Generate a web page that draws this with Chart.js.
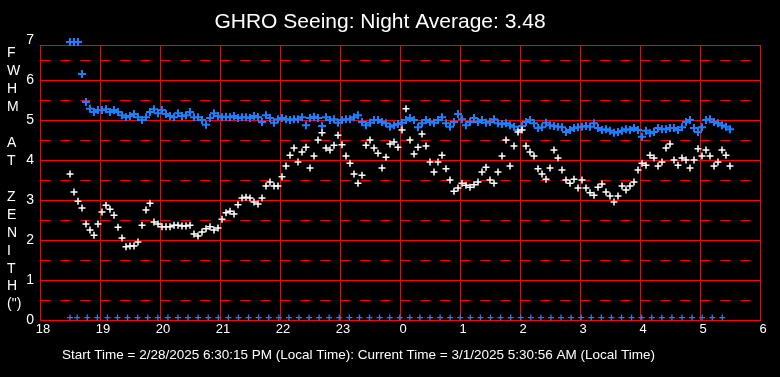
<!DOCTYPE html>
<html>
<head>
<meta charset="utf-8">
<script src="https://cdn.jsdelivr.net/npm/chart.js@4.4.1/dist/chart.umd.min.js"></script>
<style>
html, body { margin: 0; padding: 0; background: #000; }
</style>
</head>
<body>
<canvas id="seeing" width="780" height="377"></canvas>
<script>
// samples every 4 min starting 18:30 local
const startHour = 18.5;
const stepMin = 4;

const fwhmBlue = [
  6.95, 6.95, 6.95, 6.15, 5.45, 5.28, 5.2, 5.25, 5.25, 5.27,
  5.2, 5.25, 5.2, 5.12, 5.07, 5.1, 5.15, 5.07, 5.0, 5.07,
  5.2, 5.27, 5.17, 5.25, 5.15, 5.1, 5.07, 5.17, 5.1, 5.12,
  5.2, 5.07, 5.07, 5.0, 4.88, 5.05, 5.17, 5.1, 5.07, 5.08,
  5.07, 5.1, 5.05, 5.07, 5.07, 5.05, 5.1, 5.07, 4.95, 5.12,
  5.05, 4.93, 5.02, 5.05, 5.02, 5.0, 5.02, 5.02, 5.07, 4.87,
  5.05, 5.08, 5.05, 4.85, 5.07, 5.0, 5.02, 4.93, 5.0, 5.02,
  5.02, 5.07, 5.12, 4.95, 4.87, 4.93, 5.0, 5.0, 4.95, 4.92,
  4.83, 4.87, 4.9, 4.93, 5.0, 5.05, 5.0, 4.82, 4.92, 5.0,
  4.95, 4.93, 5.0, 5.07, 4.92, 4.83, 4.95, 5.15, 5.02, 4.87,
  4.95, 5.05, 4.95, 5.0, 4.93, 4.95, 5.02, 4.92, 4.9, 4.92,
  4.87, 4.83, 4.75, 4.85, 4.95, 5.0, 4.92, 4.8, 4.82, 4.93,
  4.87, 4.85, 4.83, 4.82, 4.7, 4.75, 4.8, 4.82, 4.83, 4.85,
  4.83, 4.92, 4.8, 4.75, 4.77, 4.73, 4.68, 4.7, 4.73, 4.77,
  4.75, 4.8, 4.75, 4.58, 4.73, 4.67, 4.7, 4.8, 4.77, 4.77,
  4.8, 4.8, 4.75, 4.82, 4.95, 5.0, 4.8, 4.7, 4.82, 5.0,
  5.02, 4.95, 4.92, 4.87, 4.83, 4.77
];

const fwhmWhite = [
  3.65, 3.2, 2.97, 2.8, 2.4, 2.25, 2.12, 2.4, 2.7, 2.87,
  2.77, 2.62, 2.32, 2.05, 1.83, 1.85, 1.85, 1.95, 2.37, 2.75,
  2.92, 2.45, 2.4, 2.33, 2.33, 2.33, 2.37, 2.37, 2.35, 2.35,
  2.37, 2.15, 2.1, 2.2, 2.28, 2.33, 2.25, 2.3, 2.52, 2.68,
  2.72, 2.65, 2.88, 3.05, 3.07, 3.05, 2.95, 2.9, 3.05, 3.35,
  3.45, 3.35, 3.35, 3.58, 3.85, 4.12, 4.3, 3.95, 4.2, 4.32,
  3.8, 4.1, 4.5, 4.68, 4.3, 4.25, 4.37, 4.62, 4.38, 4.1,
  3.92, 3.65, 3.42, 3.62, 4.37, 4.5, 4.3, 4.17, 3.8, 4.07,
  4.4, 4.45, 4.32, 4.75, 5.28, 4.5, 4.15, 4.32, 4.65, 4.35,
  3.95, 3.7, 3.95, 4.12, 3.78, 3.5, 3.22, 3.3, 3.42, 3.37,
  3.32, 3.38, 3.45, 3.7, 3.82, 3.5, 3.42, 3.7, 4.1, 4.5,
  3.85, 4.35, 4.7, 4.75, 4.35, 4.2, 4.1, 3.78, 3.65, 3.52,
  3.8, 4.25, 4.05, 3.75, 3.5, 3.42, 3.52, 3.3, 3.5, 3.3,
  3.18, 3.12, 3.32, 3.4, 3.2, 3.1, 2.95, 3.1, 3.35, 3.25,
  3.35, 3.45, 3.75, 3.92, 3.87, 4.12, 4.05, 3.85, 3.95, 4.3,
  4.4, 4.0, 3.87, 4.05, 4.0, 3.8, 4.0, 4.28, 4.1, 4.25,
  4.1, 3.85, 3.95, 4.25, 4.12, 3.85
];

// status markers along the bottom (every ~10 min)
const zeroFirst = 18.5;
const zeroStart = 18.62;
const zeroStepMin = 10.08;
const zeroCount = 65;
const zeroLevel = 0.06;

const xTicks = [18, 19, 20, 21, 22, 23, 24, 25, 26, 27, 28, 29, 30];
const yTicks = [0, 1, 2, 3, 4, 5, 6, 7];
const yLetters = ['F', 'W', 'H', 'M', '', 'A', 'T', '', 'Z', 'E', 'N', 'I', 'T', 'H', '(")'];

const titleText = 'GHRO Seeing: Night Average: 3.48';
const footerText = 'Start Time = 2/28/2025 6:30:15 PM (Local Time): Current Time = 3/1/2025 5:30:56 AM (Local Time)';

const blueCol = '#1a80ff';
const gridCol = '#ff0000';
const fontFam = '"Liberation Sans", Arial, sans-serif';

const bluePts = fwhmBlue.map((v, i) => ({ x: startHour + i * stepMin / 60, y: v }));
const whitePts = fwhmWhite.map((v, i) => ({ x: startHour + i * stepMin / 60, y: v }));
const zeroPts = [{ x: zeroFirst, y: zeroLevel }];
for (let i = 0; i < zeroCount; i++) {
  zeroPts.push({ x: zeroStart + i * zeroStepMin / 60, y: zeroLevel });
}

function crisp(v) {
  return Math.round(v) + 0.5;
}

const gridPlugin = {
  id: 'redGrid',
  beforeDraw(chart) {
    const c = chart.ctx;
    c.save();
    c.fillStyle = '#000';
    c.fillRect(0, 0, chart.width, chart.height);
    c.restore();
  },
  beforeDatasetsDraw(chart) {
    const c = chart.ctx;
    const xs = chart.scales.x;
    const ys = chart.scales.y;
    const left = crisp(xs.getPixelForValue(18));
    const right = crisp(xs.getPixelForValue(30));
    const top = crisp(ys.getPixelForValue(6.875));
    const bottom = crisp(ys.getPixelForValue(0));
    c.save();
    c.strokeStyle = gridCol;
    c.lineWidth = 1;

    // dashed half-unit lines
    c.setLineDash([10, 10]);
    for (let v = 0.5; v < 7; v += 1) {
      const y = crisp(ys.getPixelForValue(v));
      c.beginPath();
      c.moveTo(left, y);
      c.lineTo(right, y);
      c.stroke();
    }
    c.setLineDash([]);

    // solid integer lines
    for (const v of yTicks) {
      if (v === 0 || v === 7) continue;
      const y = crisp(ys.getPixelForValue(v));
      c.beginPath();
      c.moveTo(left, y);
      c.lineTo(right, y);
      c.stroke();
    }
    for (const h of xTicks) {
      const x = crisp(xs.getPixelForValue(h));
      c.beginPath();
      c.moveTo(x, top);
      c.lineTo(x, bottom);
      c.stroke();
    }
    c.strokeRect(left, top, right - left, bottom - top);
    c.restore();
  },
  afterDraw(chart) {
    const c = chart.ctx;
    c.save();
    c.fillStyle = '#fff';
    c.font = '14px ' + fontFam;
    c.textAlign = 'left';
    c.textBaseline = 'middle';
    yLetters.forEach((ch, i) => {
      c.fillText(ch, 7, 53.5 + i * 17.93);
    });
    c.font = '13.5px ' + fontFam;
    c.fillText(footerText, 62, 355);
    c.restore();
  }
};

new Chart(document.getElementById('seeing'), {
  type: 'scatter',
  data: {
    datasets: [
      {
        label: 'white',
        data: whitePts,
        pointStyle: 'cross',
        pointRadius: 3.5,
        borderColor: '#ffffff',
        backgroundColor: '#ffffff',
        borderWidth: 1.5,
        clip: 6
      },
      {
        label: 'blue',
        data: bluePts,
        pointStyle: 'cross',
        pointRadius: 4,
        borderColor: blueCol,
        backgroundColor: blueCol,
        borderWidth: 2,
        clip: 6
      },
      {
        label: 'zero',
        data: zeroPts,
        pointStyle: 'cross',
        pointRadius: 3,
        borderColor: blueCol,
        backgroundColor: blueCol,
        borderWidth: 1.3,
        clip: 6
      }
    ]
  },
  options: {
    responsive: false,
    animation: false,
    events: [],
    layout: { padding: { left: 0, right: 20, top: 0, bottom: 0 } },
    scales: {
      x: {
        type: 'linear',
        min: 18,
        max: 30,
        afterFit(scale) { scale.height = 57; },
        afterBuildTicks(scale) { scale.ticks = xTicks.map(v => ({ value: v })); },
        grid: { display: false, drawTicks: false },
        border: { display: false },
        ticks: {
          color: '#fff',
          padding: 2,
          labelOffset: 3,
          maxRotation: 0,
          autoSkip: false,
          font: { family: fontFam, size: 13 },
          callback: v => String(v % 24)
        }
      },
      y: {
        type: 'linear',
        min: 0,
        max: 7,
        afterFit(scale) { scale.width = 40; },
        afterBuildTicks(scale) { scale.ticks = yTicks.map(v => ({ value: v })); },
        grid: { display: false, drawTicks: false },
        border: { display: false },
        ticks: {
          color: '#fff',
          padding: 6,
          font: { family: fontFam, size: 14 },
          callback: v => String(v)
        }
      }
    },
    plugins: {
      legend: { display: false },
      tooltip: { enabled: false },
      title: {
        display: true,
        text: titleText,
        color: '#fff',
        font: { family: fontFam, size: 21, weight: 'normal' },
        padding: { top: 10, bottom: 4.8 }
      }
    }
  },
  plugins: [gridPlugin]
});
</script>
</body>
</html>
